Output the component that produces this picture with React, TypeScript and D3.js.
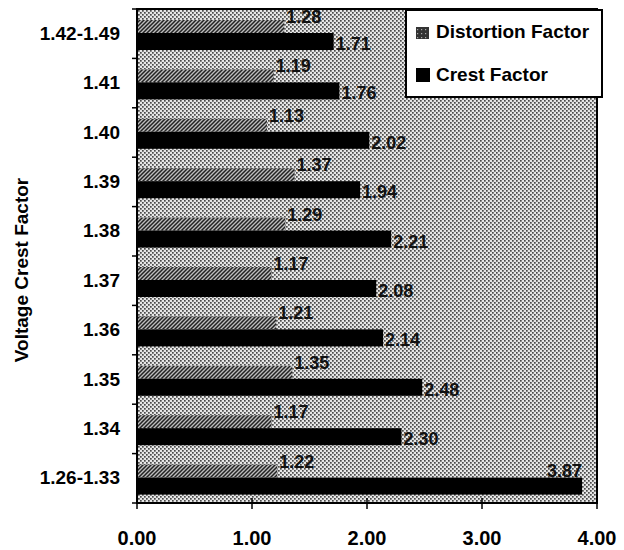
import React from 'react';
import * as d3 from 'd3';

const categories = ['1.42-1.49', '1.41', '1.40', '1.39', '1.38', '1.37', '1.36', '1.35', '1.34', '1.26-1.33'];
const distortion = [1.28, 1.19, 1.13, 1.37, 1.29, 1.17, 1.21, 1.35, 1.17, 1.22];
const crest = [1.71, 1.76, 2.02, 1.94, 2.21, 2.08, 2.14, 2.48, 2.30, 3.87];
const xTicks = [0, 1, 2, 3, 4];

const W = 624;
const H = 550;
const margin = { top: 9, right: 27, bottom: 47, left: 137 };
const font = 'Arial, "Liberation Sans", sans-serif';

export default function App() {
  const innerR = W - margin.right;
  const innerB = H - margin.bottom;

  const x = d3.scaleLinear().domain([0, 4]).range([margin.left, innerR]);
  const y = d3.scaleBand<string>().domain(categories).range([margin.top, innerB]);
  const bw = y.bandwidth();

  // offsets inside each band
  const dTop = 11;
  const dH = 13;
  const cTop = dTop + dH;
  const cH = 17;

  return (
    <svg width={W} height={H} style={{ display: 'block', position: 'absolute', left: 0, top: 0 }}>
      <defs>
        <pattern id="bg" width="4" height="4" patternUnits="userSpaceOnUse">
          <rect width="4" height="4" fill="#e6e6e6" />
          <rect x="0" y="0" width="1.7" height="1.7" fill="#4a4a4a" />
          <rect x="2" y="2" width="1.7" height="1.7" fill="#4a4a4a" />
        </pattern>
        <pattern id="hatch" width="4" height="4" patternUnits="userSpaceOnUse">
          <rect width="4" height="4" fill="#bdbdbd" />
          <path d="M-1,1 l2,-2 M0,4 l4,-4 M3,5 l2,-2" stroke="#222" strokeWidth="1.5" />
        </pattern>
        <pattern id="hatchDark" width="4" height="4" patternUnits="userSpaceOnUse">
          <rect width="4" height="4" fill="#333" />
          <rect x="1" y="1" width="1.2" height="1.2" fill="#aaa" />
        </pattern>
      </defs>
      <rect x={0} y={0} width={W} height={H} fill="#fff" />

      {/* plot background */}
      <rect x={margin.left} y={margin.top} width={innerR - margin.left} height={innerB - margin.top} fill="url(#bg)" />

      {/* bars */}
      {categories.map((c, i) => {
        const y0 = y(c) as number;
        return (
          <g key={c}>
            <rect x={x(0)} y={y0 + dTop} width={x(distortion[i]) - x(0)} height={dH} fill="url(#hatch)" />
            <rect x={x(0)} y={y0 + cTop} width={x(crest[i]) - x(0)} height={cH} fill="#000" />
          </g>
        );
      })}

      {/* value labels */}
      {categories.map((c, i) => {
        const y0 = y(c) as number;
        const overflow = x(crest[i]) + 40 > innerR;
        return (
          <g key={'l' + c} fontFamily={font} fontWeight="bold" fontSize={18} fill="#111">
            <text x={x(distortion[i]) + 2} y={y0 + dTop + 3}>{distortion[i].toFixed(2)}</text>
            {overflow ? (
              <text x={x(crest[i])} y={y0 + cTop - 1} textAnchor="end">{crest[i].toFixed(2)}</text>
            ) : (
              <text x={x(crest[i]) + 2} y={y0 + cTop + cH}>{crest[i].toFixed(2)}</text>
            )}
          </g>
        );
      })}

      {/* frame */}
      <rect x={margin.left} y={margin.top} width={innerR - margin.left} height={innerB - margin.top} fill="none" stroke="#000" strokeWidth={2} />

      {/* y ticks at band boundaries */}
      {categories.concat(['end']).map((c, i) => {
        const yy = margin.top + i * bw;
        return <line key={'yt' + i} x1={margin.left - 5} x2={margin.left} y1={yy} y2={yy} stroke="#000" strokeWidth={1.5} />;
      })}
      {categories.map(c => (
        <text key={'yl' + c} x={margin.left - 17} y={(y(c) as number) + bw / 2 + 6} textAnchor="end" fontFamily={font} fontWeight="bold" fontSize={19} fill="#000">
          {c}
        </text>
      ))}

      {/* x ticks */}
      {xTicks.map(t => (
        <g key={'xt' + t}>
          <line x1={x(t)} x2={x(t)} y1={innerB - 5} y2={innerB + 6} stroke="#000" strokeWidth={1.5} />
          <text x={x(t)} y={545} textAnchor="middle" fontFamily={font} fontWeight="bold" fontSize={20} fill="#000">
            {t.toFixed(2)}
          </text>
        </g>
      ))}

      {/* axis title */}
      <text transform={`translate(28,${270}) rotate(-90)`} textAnchor="middle" fontFamily={font} fontWeight="bold" fontSize={19} fill="#000">
        Voltage Crest Factor
      </text>

      {/* legend */}
      <g>
        <rect x={406} y={10} width={196} height={87} fill="#fff" stroke="#000" strokeWidth={2} />
        <rect x={416} y={27} width={13} height={12} fill="url(#hatchDark)" />
        <text x={436} y={38} fontFamily={font} fontWeight="bold" fontSize={19} fill="#000">Distortion Factor</text>
        <rect x={416} y={68} width={14} height={14} fill="#000" />
        <text x={436} y={81} fontFamily={font} fontWeight="bold" fontSize={19} fill="#000">Crest Factor</text>
      </g>
    </svg>
  );
}
